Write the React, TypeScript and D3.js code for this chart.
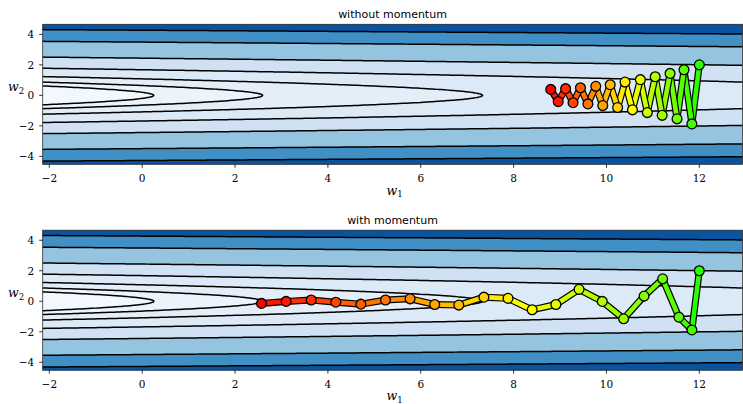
import React from 'react';
import * as d3 from 'd3';

// ---------- data ----------
const W1_TICKS = [-2, 0, 2, 4, 6, 8, 10, 12];
const W2_TICKS = [-4, -2, 0, 2, 4];
const X_LIM = [-2.143, 12.93];
const Y_LIM = [-4.52, 4.66];

// loss surface: f(w1, w2) = w2^2 + SLOPE_W1 * w1, contour levels
const SLOPE_W1 = 0.16;
const LEVELS = [0.04, 0.415, 1.173, 2.825, 5.95, 12.2, 18.25];
const BAND_COLORS = ['#f3f8fe', '#ebf3fb', '#e4eef9', '#dce9f6', '#cfe1f2', '#94c4df', '#4090c5', '#0a539e'];

// gradient descent without momentum (start -> end)
const GD_W1 = [12.0, 11.84, 11.67, 11.52, 11.37, 11.2, 11.05, 10.88, 10.73, 10.56, 10.4, 10.24, 10.08, 9.92, 9.77, 9.6, 9.44, 9.28, 9.12, 8.96, 8.8];
const GD_W2 = [2.0, -1.87, 1.68, -1.54, 1.44, -1.31, 1.22, -1.13, 1.03, -0.95, 0.87, -0.8, 0.7, -0.67, 0.59, -0.56, 0.5, -0.48, 0.44, -0.41, 0.39];

// gradient descent with momentum (start -> end)
const MOM_W1 = [12.0, 11.84, 11.56, 11.21, 10.81, 10.37, 9.91, 9.41, 8.91, 8.4, 7.88, 7.36, 6.82, 6.3, 5.77, 5.24, 4.71, 4.17, 3.64, 3.1, 2.57];
const MOM_W2 = [2.0, -1.88, -1.04, 1.47, 0.34, -1.15, -0.01, 0.78, -0.21, -0.56, 0.19, 0.27, -0.25, -0.21, 0.16, 0.08, -0.19, -0.06, 0.08, -0.01, -0.14];

const TITLES = ['without momentum', 'with momentum'];

// ---------- layout ----------
const WIDTH = 743;
const HEIGHT = 404;
const PLOT_LEFT = 42.7;
const PLOT_RIGHT = 742.5;
const PANELS = [
  { top: 24.3, bottom: 164.3, title: TITLES[0], w1: GD_W1, w2: GD_W2 },
  { top: 230.2, bottom: 370.2, title: TITLES[1], w1: MOM_W1, w2: MOM_W2 },
];

// grid for the contour field (extends past the axes so borders are clipped)
const G_X0 = -3.5, G_X1 = 14.5, G_Y0 = -6, G_Y1 = 6;
const NX = 240, NY = 480;

function buildGrid() {
  const vals = new Float64Array(NX * NY);
  for (let j = 0; j < NY; j++) {
    const w2 = G_Y0 + (j * (G_Y1 - G_Y0)) / (NY - 1);
    for (let i = 0; i < NX; i++) {
      const w1 = G_X0 + (i * (G_X1 - G_X0)) / (NX - 1);
      vals[j * NX + i] = w2 * w2 + SLOPE_W1 * w1;
    }
  }
  return vals;
}

const fmt = (v: number) => (v < 0 ? '\u2212' + Math.abs(v) : String(v));

function Panel({ idx, panel, contours }: any) {
  const x = d3.scaleLinear().domain(X_LIM).range([PLOT_LEFT, PLOT_RIGHT]);
  const y = d3.scaleLinear().domain(Y_LIM).range([panel.bottom, panel.top]);
  const sx = (G_X1 - G_X0) / (NX - 1);
  const sy = (G_Y1 - G_Y0) / (NY - 1);
  const proj = d3.geoTransform({
    point(px: number, py: number) {
      const w1 = G_X0 + (px - 0.5) * sx;
      const w2 = G_Y0 + (py - 0.5) * sy;
      (this as any).stream.point(x(w1), y(w2));
    },
  });
  const path = d3.geoPath(proj);
  const clipId = `clip${idx}`;
  const n = panel.w1.length;
  const color = (i: number) => d3.hsl(110 * (1 - i / (n - 1)), 1, 0.5).formatHex();
  const pts = panel.w1.map((v: number, i: number) => [x(v), y(panel.w2[i])]);
  const line = d3.line();
  const y0 = y(0);

  return (
    <g>
      <defs>
        <clipPath id={clipId}>
          <rect x={PLOT_LEFT} y={panel.top} width={PLOT_RIGHT - PLOT_LEFT} height={panel.bottom - panel.top} />
        </clipPath>
      </defs>
      <g clipPath={`url(#${clipId})`}>
        <rect x={PLOT_LEFT} y={panel.top} width={PLOT_RIGHT - PLOT_LEFT} height={panel.bottom - panel.top} fill={BAND_COLORS[0]} />
        {contours.map((c: any, k: number) => (
          <path key={'f' + k} d={path(c) || ''} fill={BAND_COLORS[k + 1]} stroke="none" />
        ))}
        {contours.map((c: any, k: number) => (
          <path key={'l' + k} d={path(c) || ''} fill="none" stroke="#000" strokeWidth={1.5} />
        ))}
        {pts.slice(0, -1).map((p: any, i: number) => (
          <g key={'s' + i}>
            <path d={line([p, pts[i + 1]]) || ''} stroke="#000" strokeWidth={7} strokeLinecap="round" fill="none" />
            <path d={line([p, pts[i + 1]]) || ''} stroke={color(i)} strokeWidth={4.6} strokeLinecap="round" fill="none" />
          </g>
        ))}
        {pts.map((p: any, i: number) => (
          <circle key={'m' + i} cx={p[0]} cy={p[1]} r={4.9} fill={color(i)} stroke="#000" strokeWidth={1.3} />
        ))}
      </g>
      <rect x={PLOT_LEFT} y={panel.top} width={PLOT_RIGHT - PLOT_LEFT} height={panel.bottom - panel.top} fill="none" stroke="#333" strokeWidth={0.8} />
      {W1_TICKS.map((t) => (
        <g key={'xt' + t}>
          <line x1={x(t)} x2={x(t)} y1={panel.bottom} y2={panel.bottom + 3.5} stroke="#000" strokeWidth={0.8} />
          <text x={x(t)} y={panel.bottom + 17.4} textAnchor="middle" fontFamily="DejaVu Serif" fontSize={10.5}>{fmt(t)}</text>
        </g>
      ))}
      {W2_TICKS.map((t) => (
        <g key={'yt' + t}>
          <line x1={PLOT_LEFT - 3.5} x2={PLOT_LEFT} y1={y(t)} y2={y(t)} stroke="#000" strokeWidth={0.8} />
          <text x={PLOT_LEFT - 8.5} y={y(t) + 3.8} textAnchor="end" fontFamily="DejaVu Serif" fontSize={10.5}>{fmt(t)}</text>
        </g>
      ))}
      <text x={392.5} y={panel.top - 6.3} textAnchor="middle" fontFamily="DejaVu Sans" fontSize={11}>{panel.title}</text>
      <text x={8} y={y0 - 4} fontFamily="DejaVu Serif" fontStyle="italic" fontSize={12.5}>
        w<tspan dy={2.6} fontSize={8.5} fontStyle="normal">2</tspan>
      </text>
      <text x={386.5} y={panel.bottom + 30.2} fontFamily="DejaVu Serif" fontStyle="italic" fontSize={12.5}>
        w<tspan dy={2.2} fontSize={8.5} fontStyle="normal">1</tspan>
      </text>
    </g>
  );
}

export default function App() {
  const grid = buildGrid();
  const contours = d3.contours().size([NX, NY]).thresholds(LEVELS)(grid as any);
  return (
    <svg width={WIDTH} height={HEIGHT} style={{ position: 'absolute', left: 0, top: 0, background: '#fff' }}>
      {PANELS.map((p, i) => (
        <Panel key={i} idx={i} panel={p} contours={contours} />
      ))}
    </svg>
  );
}
